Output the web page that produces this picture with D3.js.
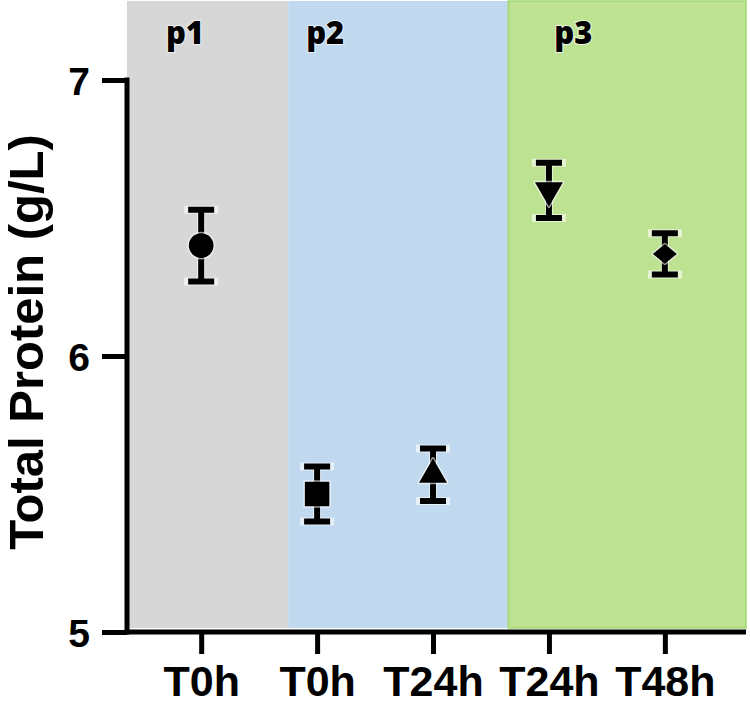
<!DOCTYPE html>
<html>
<head>
<meta charset="utf-8">
<script src="https://cdn.jsdelivr.net/npm/d3@7"></script>
<style>
  html, body { margin: 0; padding: 0; background: #fff; }
  svg { display: block; }
</style>
</head>
<body>
<div id="chart"></div>
<script>
// values
const categories = ["T0h", "T0h", "T24h", "T24h", "T48h"]
const means = [6.40, 5.50, 5.57, 6.60, 6.37]
const errors = [0.13, 0.10, 0.095, 0.10, 0.075]
const markers = ["circle", "square", "triangle", "triangleDown", "diamond"]
const yTicks = [5, 6, 7]

const periods = ["p1", "p2", "p3"]
const periodStart = [-0.64, 0.75, 2.65]
const periodEnd = [0.75, 2.65, 4.7]
const periodLabelAt = [-0.14, 1.07, 3.21]
const periodColors = ["#d7d7d7", "#c1d9ef", "#bde292"]

const width = 750
const height = 702

const svg = d3.select("#chart").append("svg")
  .attr("width", width)
  .attr("height", height)
  .attr("viewBox", [0, 0, width, height])

const x = d3.scaleLinear()
  .domain([-0.64, 4.7])
  .range([127, 746])

const y = d3.scaleLinear()
  .domain([5, 7])
  .range([632, 80])

// shaded periods
svg.append("g")
  .selectAll("rect")
  .data(periods)
  .join("rect")
    .attr("x", (d, i) => x(periodStart[i]))
    .attr("width", (d, i) => x(periodEnd[i]) - x(periodStart[i]))
    .attr("y", 1)
    .attr("height", y(5) - 5)
    .attr("fill", (d, i) => periodColors[i])
    .attr("stroke", (d, i) => i === 2 ? "#a2d772" : "none")
    .attr("stroke-width", 1.5)

svg.append("g")
  .selectAll("text")
  .data(periods)
  .join("text")
    .attr("x", (d, i) => x(periodLabelAt[i]))
    .attr("y", 44)
    .attr("text-anchor", "middle")
    .attr("font-family", "'Open Sans', sans-serif")
    .attr("font-weight", 800)
    .attr("font-size", 31)
    .attr("fill", "#000")
    .attr("stroke", "#fff")
    .attr("stroke-width", 2)
    .attr("stroke-opacity", 0.7)
    .attr("paint-order", "stroke")
    .text(d => d)

// axes
const yAxis = g => g
  .attr("transform", `translate(${x(-0.64)},0)`)
  .call(d3.axisLeft(y).tickValues(yTicks).tickFormat(d3.format("d")).tickSize(25).tickPadding(12).tickSizeOuter(0))
  .call(g => g.select(".domain").attr("d", `M0,${y(7) - 2.5}V${y(5) + 2.5}`))
  .call(g => g.selectAll("line, .domain").attr("stroke", "#000").attr("stroke-width", 5))
  .call(g => g.selectAll("text")
    .attr("dy", "0.38em")
    .attr("font-family", "'Liberation Sans', Arial, sans-serif")
    .attr("font-weight", 700)
    .attr("font-size", 39)
    .attr("fill", "#000"))

const xAxis = g => g
  .attr("transform", `translate(0,${y(5)})`)
  .call(d3.axisBottom(x).tickValues(d3.range(categories.length)).tickFormat(i => categories[i]).tickSize(22).tickPadding(11).tickSizeOuter(0))
  .call(g => g.select(".domain").attr("d", `M${x(-0.64) - 2.5},0H${x(4.7)}`))
  .call(g => g.selectAll("line, .domain").attr("stroke", "#000").attr("stroke-width", 5))
  .call(g => g.selectAll("text")
    .attr("font-family", "'Liberation Sans', Arial, sans-serif")
    .attr("font-weight", 700)
    .attr("font-size", 43)
    .attr("fill", "#000"))

svg.append("g").call(xAxis)
svg.append("g").call(yAxis)

svg.append("text")
  .attr("transform", `translate(43,342) rotate(-90)`)
  .attr("text-anchor", "middle")
  .attr("font-family", "'Liberation Sans', Arial, sans-serif")
  .attr("font-weight", 700)
  .attr("font-size", 49)
  .attr("fill", "#000")
  .text("Total Protein (g/L)")

// error bars
const capHalf = 13
const barPath = (d, i) => {
  const cx = x(i)
  const top = y(means[i] + errors[i])
  const bot = y(means[i] - errors[i])
  return `M${cx - capHalf},${top}H${cx + capHalf}M${cx},${top}V${bot}M${cx - capHalf},${bot}H${cx + capHalf}`
}

const bars = svg.append("g")
bars.selectAll(".halo")
  .data(means)
  .join("path")
    .attr("class", "halo")
    .attr("d", barPath)
    .attr("fill", "none")
    .attr("stroke", "#fff")
    .attr("stroke-opacity", 0.6)
    .attr("stroke-width", 8)
    .attr("stroke-linecap", "square")
bars.selectAll(".bar")
  .data(means)
  .join("path")
    .attr("class", "bar")
    .attr("d", barPath)
    .attr("fill", "none")
    .attr("stroke", "#000")
    .attr("stroke-width", 6)

// markers
const symbolOf = {
  circle: d3.symbol(d3.symbolCircle, 480)(),
  square: d3.symbol(d3.symbolSquare, 600)(),
  triangle: d3.symbol(d3.symbolTriangle, 340)(),
  triangleDown: d3.symbol(d3.symbolTriangle, 340)(),
  diamond: d3.symbol(d3.symbolDiamond2, 370)()
}
const extraTransform = {
  circle: "",
  square: "",
  triangle: "",
  triangleDown: " rotate(180)",
  diamond: " scale(1,0.82)"
}

svg.append("g")
  .selectAll("path")
  .data(means)
  .join("path")
    .attr("transform", (d, i) => `translate(${x(i)},${y(d)})${extraTransform[markers[i]]}`)
    .attr("d", (d, i) => symbolOf[markers[i]])
    .attr("fill", "#000")
    .attr("stroke", "#fff")
    .attr("stroke-opacity", 0.6)
    .attr("stroke-width", 3)
    .attr("stroke-linejoin", "round")
    .attr("paint-order", "stroke")
</script>
</body>
</html>
